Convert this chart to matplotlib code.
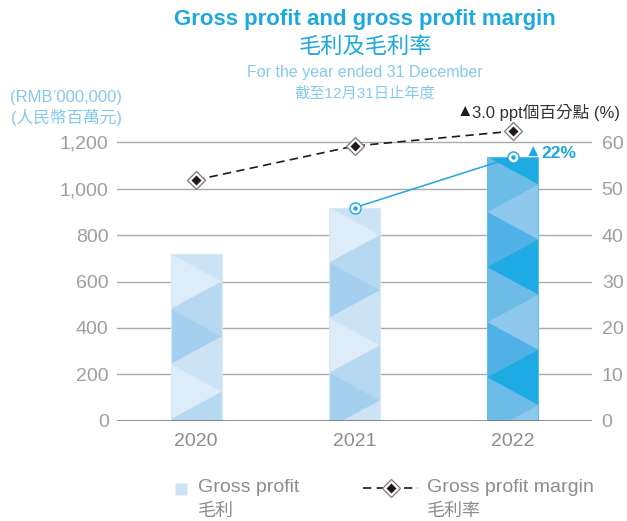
import matplotlib
matplotlib.use('Agg')
import matplotlib.pyplot as plt
from matplotlib.patches import Polygon
from matplotlib.lines import Line2D

# ---------------- data ----------------
years = ['2020', '2021', '2022']
gross_profit = [718, 918, 1136]          # RMB million
gross_margin = [51.9, 59.2, 62.4]        # %
left_ticks = [0, 200, 400, 600, 800, 1000, 1200]
left_tick_labels = ['0', '200', '400', '600', '800', '1,000', '1,200']
right_ticks = [0, 10, 20, 30, 40, 50, 60]
right_tick_labels = ['0', '10', '20', '30', '40', '50', '60']
growth_label = '22%'
margin_change_label = '3.0 ppt個百分點 (%)'

# ---------------- style ----------------
FONTS = ['Liberation Sans', 'Noto Sans CJK TC', 'DejaVu Sans']
plt.rcParams['font.family'] = FONTS

W, H = 627, 521
BLUE = '#1ea8e0'
LIGHTBLUE = '#86c9ee'
GREY_TXT = '#8c8c8c'
TICK_TXT = '#9e9e9e'
DARK = '#231815'

light_pal = {'R': ['#cce3f5', '#b6d8f1'], 'L': ['#dcecf9', '#a4cfef']}
dark_pal = {'R': ['#1eaae2', '#8ec8ed'], 'L': ['#6dbce8', '#4fb1e5']}
palettes = [light_pal, light_pal, dark_pal]
edge_cols = ['#d6e9f8', '#d6e9f8', '#62bbe9']
PERIOD = 237.6      # zigzag period in data units

def fx(px):
    return px / W

def fy(px):
    return 1 - px / H

fig = plt.figure(figsize=(W / 100, H / 100), dpi=100)
ax_bottom, ax_top = 420.7, 119.1
ax = fig.add_axes([fx(117), fy(ax_bottom), 475 / W, (ax_bottom - ax_top) / H])
ax.set_xlim(-0.5, 2.5)
ax.set_ylim(0, 1300)
ax2 = ax.twinx()
ax2.set_ylim(0, 65)

for a in (ax, ax2):
    for s in a.spines.values():
        s.set_visible(False)

# grid
for t in left_ticks[1:]:
    ax.axhline(t, color='#aaaaaa', lw=1.0, zorder=0)
ax.axhline(0, color='#7a7a7a', lw=1.9, zorder=3)

# bars
xpos = list(range(len(years)))
bw = 0.322
bars = ax.bar(xpos, gross_profit, width=bw, color=[p['L'][0] for p in palettes],
              edgecolor='none', zorder=1)

for rect, pal in zip(bars, palettes):
    x0 = rect.get_x()
    x1 = x0 + rect.get_width()
    top = rect.get_height()
    n = int(top / PERIOD) + 2
    for j in range(n + 1):
        yc = top - j * PERIOD
        tr = Polygon([(x0, yc), (x1, yc + PERIOD / 2), (x1, yc - PERIOD / 2)], closed=True,
                     fc=pal['R'][j % 2], ec=pal['R'][j % 2], lw=0.3, zorder=1.1)
        ax.add_patch(tr)
        tr.set_clip_path(rect)
        tl = Polygon([(x0, yc), (x1, yc - PERIOD / 2), (x0, yc - PERIOD)], closed=True,
                     fc=pal['L'][j % 2], ec=pal['L'][j % 2], lw=0.3, zorder=1.1)
        ax.add_patch(tl)
        tl.set_clip_path(rect)

ax.bar(xpos, gross_profit, width=bw, fill=False, edgecolor=edge_cols, lw=0.8, zorder=1.2)

# growth line on bar tops (2021 -> 2022)
ax.plot(xpos[1:], gross_profit[1:], color=BLUE, lw=1.1, zorder=4)
ax.plot(xpos[1:], gross_profit[1:], 'o', ms=8, mfc='white', mec=BLUE, mew=1.0, zorder=5)
ax.plot(xpos[1:], gross_profit[1:], 'o', ms=3.2, mfc=BLUE, mec='none', zorder=6)

ax.annotate('▲', xy=(xpos[2], gross_profit[2]), xytext=(20, 6), textcoords='offset pixels',
            ha='center', va='center', fontsize=12, color=BLUE, zorder=7)
ax.annotate(growth_label, xy=(xpos[2], gross_profit[2]), xytext=(29, 4), textcoords='offset pixels',
            ha='left', va='center', fontsize=12.5, fontweight='bold', color=BLUE, zorder=7)

# margin line
ax2.plot(xpos, gross_margin, color=DARK, lw=1.2, ls=(0, (5, 3.2)), zorder=4, clip_on=False)
ax2.plot(xpos, gross_margin, 'D', ms=9.5, mfc='white', mec='#7a7a7a', mew=0.9, zorder=5, clip_on=False)
ax2.plot(xpos, gross_margin, 'D', ms=5.6, mfc=DARK, mec='none', zorder=6, clip_on=False)

ax2.annotate('▲', xy=(xpos[2], gross_margin[2]), xytext=(-48, 20), textcoords='offset pixels',
             ha='center', va='center', fontsize=12, color=DARK)
ax2.annotate(margin_change_label, xy=(xpos[2], gross_margin[2]), xytext=(-41, 19),
             textcoords='offset pixels', ha='left', va='center', fontsize=12, color='#333333')

# ticks
ax.set_xticks(xpos, years)
ax.set_yticks(left_ticks, left_tick_labels)
ax2.set_yticks(right_ticks, right_tick_labels)
ax.tick_params(axis='x', length=0, pad=9, labelsize=14, labelcolor=GREY_TXT)
ax.tick_params(axis='y', length=0, pad=6, labelsize=14, labelcolor=TICK_TXT)
ax2.tick_params(axis='y', length=0, pad=7, labelsize=14, labelcolor=TICK_TXT)

# titles
fig.text(fx(365), fy(20), 'Gross profit and gross profit margin', ha='center', va='center',
         fontsize=16, fontweight='bold', color=BLUE)
fig.text(fx(365), fy(47), '毛利及毛利率', ha='center', va='center', fontsize=16, color=BLUE)
fig.text(fx(365), fy(72), 'For the year ended 31 December', ha='center', va='center',
         fontsize=11.5, color=LIGHTBLUE)
fig.text(fx(365), fy(94), '截至12月31日止年度', ha='center', va='center', fontsize=11, color=LIGHTBLUE)
fig.text(fx(66), fy(97), '(RMB\u2019000,000)', ha='center', va='center', fontsize=12, color=LIGHTBLUE)
fig.text(fx(66), fy(117), '(人民幣百萬元)', ha='center', va='center', fontsize=12, color=LIGHTBLUE)

# legend (manual)
fig.add_artist(Line2D([fx(180.5)], [fy(488.5)], marker='s', ms=9.3, mfc='#cce3f5', mec='none',
                      transform=fig.transFigure))
fig.text(fx(198), fy(488), 'Gross profit', ha='left', va='center', fontsize=14, color=GREY_TXT)
fig.text(fx(198), fy(511), '毛利', ha='left', va='center', fontsize=13, color=GREY_TXT)

fig.add_artist(Line2D([fx(363), fx(418)], [fy(488), fy(488)], color=DARK, lw=1.2, ls=(0, (5, 3.2)),
                      transform=fig.transFigure))
fig.add_artist(Line2D([fx(390.5)], [fy(488)], marker='D', ms=9.5, mfc='white', mec='#7a7a7a', mew=0.9,
                      transform=fig.transFigure))
fig.add_artist(Line2D([fx(390.5)], [fy(488)], marker='D', ms=5.6, mfc=DARK, mec='none',
                      transform=fig.transFigure))
fig.text(fx(427), fy(488), 'Gross profit margin', ha='left', va='center', fontsize=14, color=GREY_TXT)
fig.text(fx(427), fy(511), '毛利率', ha='left', va='center', fontsize=13, color=GREY_TXT)

fig.savefig('out.png', dpi=100)
